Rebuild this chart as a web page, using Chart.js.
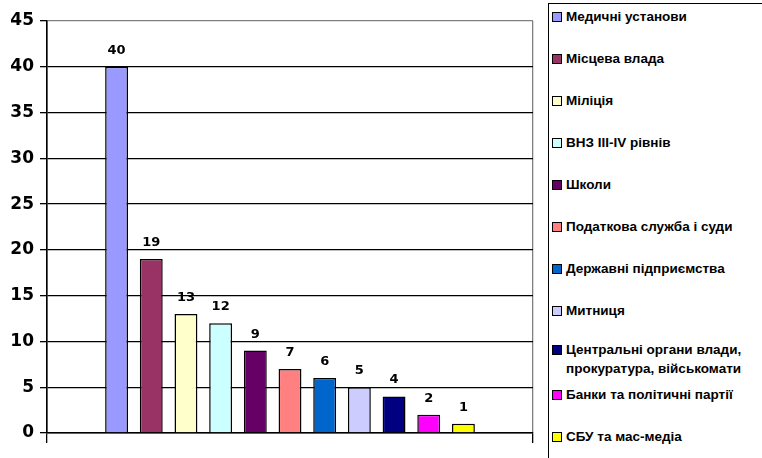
<!DOCTYPE html>
<html>
<head>
<meta charset="utf-8">
<script src="https://cdn.jsdelivr.net/npm/chart.js@4.4.0/dist/chart.umd.min.js"></script>
<style>
  html, body { margin: 0; padding: 0; background: #fff; overflow: hidden; }
  body { width: 762px; height: 458px; position: relative; font-family: "Liberation Sans", Arial, sans-serif; }
  #wrap { position: absolute; left: 0; top: 0; width: 548px; height: 458px; }
  #legend { position: absolute; left: 548px; top: 3px; width: 240px; height: 470px; border: 1.5px solid #000; box-sizing: border-box; }
  .item { position: absolute; left: 3px; font-weight: bold; font-size: 13.5px; line-height: 19px; white-space: pre; color: #000; }
  .box { position: absolute; left: 0; top: 5px; width: 8px; height: 8px; border: 1px solid #000; }
  .txt { position: absolute; left: 14px; top: 0; }
</style>
</head>
<body>
<div id="wrap"><canvas id="chart"></canvas></div>
<div id="legend"></div>
<script>
const categories = [
    'Медичні установи',
    'Місцева влада',
    'Міліція',
    'ВНЗ ІІІ-IV рівнів',
    'Школи',
    'Податкова служба і суди',
    'Державні підприємства',
    'Митниця',
    'Центральні органи влади,\nпрокуратура, військомати',
    'Банки та політичні партії',
    'СБУ та мас-медіа'
];
const values = [40, 19, 13, 12, 9, 7, 6, 5, 4, 2, 1];
const colors = ['#9999FF', '#993366', '#FFFFCC', '#CCFFFF', '#660066', '#FF8080',
                '#0066CC', '#CCCCFF', '#000080', '#FF00FF', '#FFFF00'];

const ctx = document.getElementById('chart');

const valueLabels = {
    id: 'valueLabels',
    afterDatasetsDraw(chart) {
        const c = chart.ctx;
        c.save();
        c.font = 'bold 13px "DejaVu Sans", sans-serif';
        c.fillStyle = '#000';
        c.textAlign = 'center';
        c.textBaseline = 'alphabetic';
        chart.data.datasets.forEach((ds, i) => {
            const bar = chart.getDatasetMeta(i).data[0];
            c.fillText(String(ds.data[0]), bar.x, bar.y - 13);
        });
        c.restore();
    }
};

let data = {
    labels: [''],
    datasets: categories.map((name, i) => ({
        label: name,
        data: [values[i]],
        backgroundColor: colors[i],
        borderColor: '#000',
        borderWidth: 1.5,
        categoryPercentage: 0.785,
        barPercentage: 0.66
    }))
};

let config = {
    type: 'bar',
    data: data,
    options: {
        responsive: true,
        maintainAspectRatio: false,
        animation: false,
        layout: { padding: { top: 21, right: 15, left: 0, bottom: 0 } },
        plugins: {
            tooltip: { enabled: false },
            legend: { display: false }
        },
        scales: {
            x: {
                afterFit: (s) => { s.height = 25; },
                ticks: { display: true },
                grid: {
                    color: (c) => c.index === 0 ? '#000' : '#808080',
                    tickColor: '#000',
                    tickLength: 10,
                    lineWidth: 1.3
                },
                border: { color: '#000', width: 1.5 }
            },
            y: {
                min: 0,
                max: 45,
                afterFit: (s) => { s.width = 47; },
                ticks: {
                    stepSize: 5,
                    padding: 6,
                    color: '#000',
                    font: { family: '"DejaVu Sans", sans-serif', size: 17, weight: 'bold' }
                },
                grid: {
                    color: (c) => c.tick && c.tick.value === 45 ? '#808080' : '#000',
                    tickColor: '#000',
                    tickLength: 7,
                    lineWidth: 1.3
                },
                border: { color: '#000', width: 1.5 }
            }
        }
    },
    plugins: [valueLabels]
};

const chart = new Chart(ctx, config);

// legend on the right, in a framed box
const legend = document.getElementById('legend');
categories.forEach((name, i) => {
    let center = 12 + 42 * i;
    if (i === 8) center = 345;
    const item = document.createElement('div');
    item.className = 'item';
    item.style.top = (center - 9.5) + 'px';
    item.innerHTML = '<span class="box" style="background:' + colors[i] + '"></span>' +
        '<span class="txt"></span>';
    item.querySelector('.txt').textContent = name;
    legend.appendChild(item);
});
</script>
</body>
</html>
